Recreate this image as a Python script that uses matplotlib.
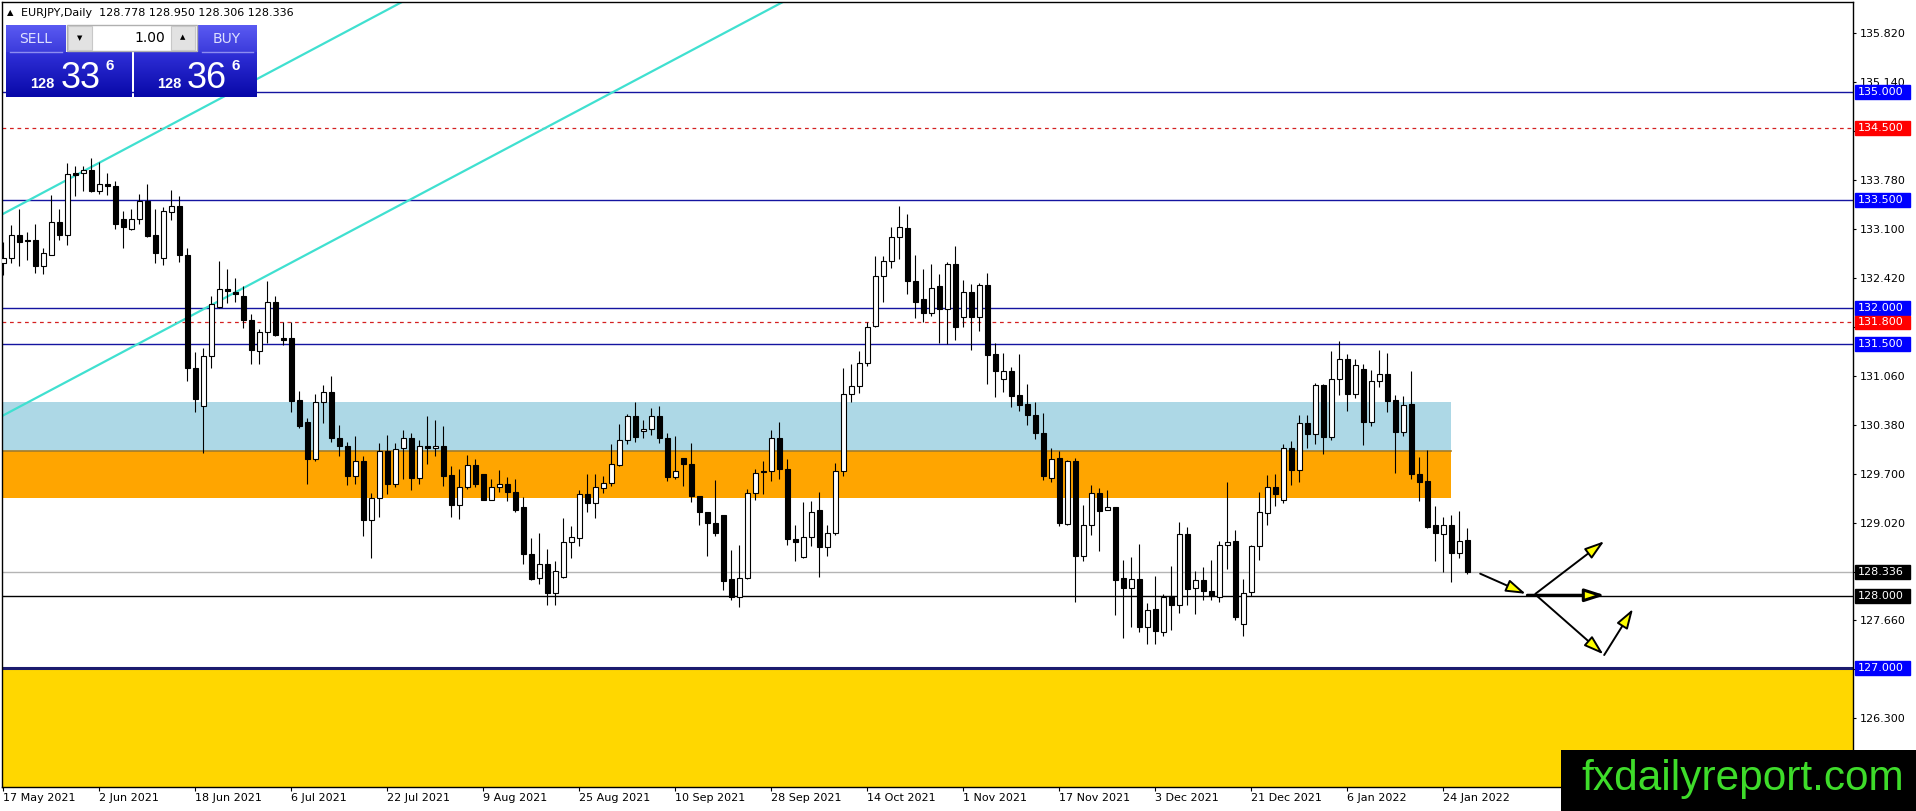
import matplotlib
matplotlib.use('Agg')
import matplotlib.pyplot as plt
import matplotlib.transforms as mtransforms
from matplotlib.patches import Rectangle
from matplotlib.lines import Line2D
import matplotlib.colors as mcolors
import numpy as np

W, H = 1916, 811

# EURJPY daily candles, 17 May 2021 .. 27 Jan 2022
opens = [
    132.63, 132.69, 133.02, 132.94, 132.94, 132.59, 132.74, 133.19, 133.02, 133.87,
    133.87, 133.91, 133.62, 133.72, 133.69, 133.23, 133.10, 133.23, 133.49, 133.01,
    132.69, 133.34, 133.42, 132.74, 131.16, 130.64, 131.34, 132.02, 132.26, 132.22,
    132.17, 131.84, 131.40, 131.66, 132.08, 131.58, 131.58, 130.72, 130.41, 129.90,
    130.70, 130.83, 130.20, 130.08, 129.66, 129.88, 129.06, 129.36, 130.01, 129.56,
    130.05, 130.20, 129.64, 130.09, 130.06, 130.08, 129.68, 129.27, 129.52, 129.82,
    129.69, 129.34, 129.51, 129.55, 129.44, 129.23, 128.58, 128.25, 128.44, 128.04,
    128.27, 128.75, 128.81, 129.41, 129.29, 129.50, 129.57, 129.82, 130.17, 130.50,
    130.29, 130.32, 130.50, 130.19, 129.65, 129.91, 129.83, 129.39, 129.17, 129.02,
    129.13, 128.23, 127.99, 128.25, 129.43, 129.74, 129.74, 130.20, 129.77, 128.79,
    128.54, 128.82, 129.19, 128.68, 128.87, 129.74, 130.81, 130.91, 131.24, 131.75,
    132.45, 132.65, 132.98, 133.11, 132.37, 132.13, 131.93, 132.31, 131.98, 132.61,
    131.87, 132.22, 131.88, 132.32, 131.36, 131.01, 131.13, 130.79, 130.67, 130.52,
    130.27, 129.64, 129.91, 129.00, 129.87, 128.56, 128.99, 129.43, 129.19, 129.23,
    128.25, 128.11, 128.23, 127.57, 127.82, 127.50, 128.00, 127.87, 128.86, 128.11,
    128.22, 128.07, 127.98, 128.71, 128.76, 127.61, 128.05, 128.70, 129.15, 129.51,
    129.33, 130.05, 129.75, 130.40, 130.25, 130.93, 130.21, 131.01, 131.29, 130.80,
    131.15, 130.41, 130.99, 131.08, 130.72, 130.28, 130.67, 129.69, 129.60, 128.99,
    128.86, 128.99, 128.60, 128.778,
]
highs = [
    132.92, 133.15, 133.38, 133.05, 133.16, 132.83, 133.57, 133.38, 134.01, 133.97,
    133.97, 134.08, 134.03, 133.87, 133.76, 133.35, 133.38, 133.58, 133.72, 133.37,
    133.40, 133.64, 133.56, 132.84, 131.39, 131.44, 132.16, 132.65, 132.54, 132.42,
    132.30, 131.92, 131.71, 132.37, 132.17, 131.80, 131.80, 130.85, 130.47, 130.81,
    130.93, 131.05, 130.38, 130.14, 130.22, 129.94, 129.43, 130.13, 130.24, 130.13,
    130.30, 130.26, 130.17, 130.50, 130.44, 130.36, 129.81, 129.76, 129.96, 129.90,
    129.69, 129.63, 129.75, 129.65, 129.63, 129.37, 128.81, 128.88, 128.65, 128.48,
    129.09, 128.97, 129.47, 129.70, 129.70, 129.67, 130.11, 130.39, 130.53, 130.69,
    130.45, 130.61, 130.64, 130.26, 130.22, 129.91, 130.13, 129.39, 129.17, 129.61,
    129.13, 128.64, 128.71, 129.48, 129.77, 129.87, 130.31, 130.42, 129.90, 128.98,
    129.31, 129.32, 129.44, 128.99, 129.85, 131.16, 131.22, 131.40, 131.81, 132.72,
    132.72, 133.12, 133.42, 133.31, 132.74, 132.54, 132.61, 132.47, 132.64, 132.86,
    132.39, 132.34, 132.35, 132.49, 131.52, 131.37, 131.18, 131.36, 130.94, 130.70,
    130.54, 130.05, 130.01, 129.89, 129.91, 129.26, 129.54, 129.50, 129.47, 129.24,
    128.50, 128.54, 128.72, 127.90, 128.28, 128.03, 128.41, 129.03, 128.96, 128.35,
    128.40, 128.50, 128.76, 129.58, 128.92, 128.24, 128.71, 129.44, 129.68, 129.70,
    130.11, 130.15, 130.51, 130.52, 130.96, 130.94, 131.40, 131.54, 131.36, 131.29,
    131.22, 131.14, 131.42, 131.38, 130.79, 130.78, 131.12, 129.93, 130.03, 129.25,
    129.10, 129.12, 129.18, 128.950,
]
lows = [
    132.46, 132.63, 132.58, 132.66, 132.49, 132.47, 132.73, 132.95, 132.88, 133.56,
    133.62, 133.61, 133.59, 133.57, 133.10, 132.84, 133.08, 133.17, 132.99, 132.62,
    132.60, 133.22, 132.64, 130.99, 130.56, 129.99, 131.17, 132.00, 132.07, 132.09,
    131.72, 131.22, 131.22, 131.51, 131.61, 131.48, 130.56, 130.33, 129.56, 129.87,
    130.40, 130.14, 129.95, 129.54, 129.56, 128.84, 128.53, 129.10, 129.42, 129.52,
    129.62, 129.47, 129.56, 129.84, 129.94, 129.53, 129.10, 129.07, 129.48, 129.52,
    129.33, 129.34, 129.45, 129.32, 129.17, 128.44, 128.22, 128.17, 127.87, 127.88,
    128.25, 128.53, 128.70, 129.17, 129.09, 129.43, 129.53, 129.81, 130.11, 130.14,
    130.19, 130.23, 130.12, 129.60, 129.62, 129.53, 129.30, 128.99, 128.55, 128.84,
    128.08, 127.94, 127.85, 128.24, 129.33, 129.42, 129.60, 129.62, 128.71, 128.49,
    128.53, 128.70, 128.27, 128.56, 128.85, 129.67, 130.69, 130.82, 131.20, 131.74,
    132.09, 132.56, 132.68, 132.20, 131.86, 131.80, 131.89, 131.52, 131.50, 131.55,
    131.73, 131.41, 131.68, 130.94, 130.77, 130.84, 130.62, 130.57, 130.38, 130.18,
    129.61, 129.59, 128.97, 128.99, 127.91, 128.49, 128.85, 128.63, 129.19, 127.73,
    127.42, 127.57, 127.50, 127.33, 127.33, 127.45, 127.53, 127.76, 127.87, 127.75,
    127.95, 127.94, 127.92, 128.38, 127.67, 127.45, 128.00, 128.50, 128.99, 129.25,
    129.29, 129.54, 129.59, 130.06, 130.11, 129.97, 130.17, 130.79, 130.57, 130.75,
    130.10, 130.36, 130.90, 130.56, 129.71, 130.22, 129.62, 129.32, 128.95, 128.49,
    128.34, 128.19, 128.53, 128.306,
]
closes = [
    132.69, 133.02, 132.92, 132.93, 132.59, 132.76, 133.19, 133.01, 133.86, 133.85,
    133.91, 133.62, 133.72, 133.69, 133.17, 133.12, 133.23, 133.49, 133.00, 132.76,
    133.35, 133.41, 132.73, 131.16, 130.74, 131.34, 132.05, 132.26, 132.23, 132.20,
    131.84, 131.41, 131.66, 132.08, 131.63, 131.56, 130.71, 130.36, 129.90, 130.70,
    130.83, 130.20, 130.08, 129.66, 129.88, 129.06, 129.36, 130.01, 129.56, 130.04,
    130.20, 129.64, 130.09, 130.06, 130.09, 129.67, 129.26, 129.52, 129.82, 129.56,
    129.34, 129.51, 129.55, 129.44, 129.20, 128.58, 128.24, 128.44, 128.04, 128.35,
    128.75, 128.82, 129.41, 129.29, 129.51, 129.57, 129.83, 130.17, 130.50, 130.21,
    130.32, 130.50, 130.19, 129.65, 129.73, 129.83, 129.39, 129.17, 129.02, 128.87,
    128.21, 127.98, 128.25, 129.43, 129.71, 129.72, 130.20, 129.77, 128.79, 128.75,
    128.82, 129.17, 128.68, 128.88, 129.74, 130.81, 130.91, 131.24, 131.74, 132.45,
    132.65, 132.98, 133.12, 132.37, 132.08, 131.93, 132.28, 131.98, 132.61, 131.74,
    132.22, 131.88, 132.32, 131.35, 131.12, 131.12, 130.78, 130.65, 130.51, 130.27,
    129.66, 129.90, 129.02, 129.87, 128.55, 128.99, 129.43, 129.18, 129.23, 128.22,
    128.11, 128.23, 127.57, 127.81, 127.52, 127.99, 127.87, 128.86, 128.10, 128.22,
    128.07, 128.00, 128.71, 128.75, 127.71, 128.04, 128.70, 129.16, 129.51, 129.42,
    130.05, 129.75, 130.40, 130.25, 130.93, 130.21, 131.01, 131.29, 130.80, 131.21,
    130.41, 130.99, 131.08, 130.71, 130.28, 130.65, 129.69, 129.59, 128.96, 128.88,
    128.99, 128.60, 128.77, 128.336,
]

date_labels = ['17 May 2021', '2 Jun 2021', '18 Jun 2021', '6 Jul 2021', '22 Jul 2021',
               '9 Aug 2021', '25 Aug 2021', '10 Sep 2021', '28 Sep 2021', '14 Oct 2021',
               '1 Nov 2021', '17 Nov 2021', '3 Dec 2021', '21 Dec 2021', '6 Jan 2022',
               '24 Jan 2022']
price_ticks = [126.30, 126.98, 127.66, 128.34, 129.02, 129.70, 130.38, 131.06,
               131.74, 132.42, 133.10, 133.78, 134.46, 135.14, 135.82]

blue_levels = [135.0, 133.5, 132.0, 131.5]
red_levels = [134.5, 131.8]
support_level = 128.0
yellow_top = 127.0
zone_blue = (130.0, 130.69)
zone_orange = (129.36, 130.01)
zone_end = 180.9
# channel lines: (bar, price) start and end
channel = [((-1, 133.25), (60, 136.85)), ((-1, 130.45), (110, 136.99))]
# scenario arrows: (bar, price) -> (bar, price)
arrows = [((184.6, 128.31), (190.3, 128.03)),
          ((190.5, 128.01), (200.2, 128.01)),
          ((191.5, 128.03), (200.1, 128.76)),
          ((191.7, 128.00), (200.0, 127.19)),
          ((200.1, 127.18), (203.7, 127.82))]

fig = plt.figure(figsize=(W / 100, H / 100), dpi=100)
ax = fig.add_axes([2 / W, 24 / H, 1851 / W, 785 / H])
ax.set_xlim(-0.16, 231.2)
ax.set_ylim(125.347, 136.25)

# zones
ax.add_patch(Rectangle((-5, 120), 250, yellow_top - 120, color='#ffd700', zorder=0.5, lw=0))
ax.axhline(yellow_top, color='#1c1c6e', lw=2.2, zorder=1)
ax.add_patch(Rectangle((-5, zone_blue[0]), zone_end + 5, zone_blue[1] - zone_blue[0],
                       color='#add8e6', lw=0, zorder=0.6))
ax.add_patch(Rectangle((-5, zone_orange[0]), zone_end + 5, zone_orange[1] - zone_orange[0],
                       color='#ffa500', lw=0, zorder=0.7))
ax.plot([-5, zone_end], [zone_orange[1], zone_orange[1]], color='#a27c2c', lw=1.2, zorder=0.8)

for lv in blue_levels:
    ax.axhline(lv, color='#1414a0', lw=1, zorder=1)
for lv in red_levels:
    ax.axhline(lv, color='#d42020', lw=0.9, ls=(0, (3, 3)), zorder=1)
ax.axhline(closes[-1], color='#b4b4b4', lw=1, zorder=1)
ax.axhline(support_level, color='black', lw=1, zorder=1)

for (x0, y0), (x1, y1) in channel:
    ax.plot([x0, x1], [y0, y1], color='#40e0d0', lw=1.6, zorder=2, solid_capstyle='butt')

# candles
o = np.array(opens); hi = np.array(highs); lo = np.array(lows); c = np.array(closes)
x = np.arange(len(o))
up = c >= o
ax.vlines(x, lo, hi, color='black', lw=0.8, zorder=3)
bot = np.minimum(o, c)
hgt = np.maximum(np.abs(c - o), 0.015)
ax.bar(x[up], hgt[up], bottom=bot[up], width=0.62, color='white', edgecolor='black', lw=0.8, zorder=4)
ax.bar(x[~up], hgt[~up], bottom=bot[~up], width=0.62, color='black', edgecolor='black', lw=0.8, zorder=4)

# arrows
for k, ((x0, y0), (x1, y1)) in enumerate(arrows):
    ax.annotate('', xy=(x1, y1), xytext=(x0, y0),
                arrowprops=dict(arrowstyle='-|>,head_length=1.0,head_width=0.32',
                                fc='#ffff00', ec='black', lw=2.2 if k == 1 else 1.4,
                                mutation_scale=12, shrinkA=0, shrinkB=0),
                zorder=6)

# price labels on the right scale
trans = mtransforms.blended_transform_factory(fig.transFigure, ax.transData)
labels = [(lv, '#0000ff') for lv in blue_levels + [yellow_top]]
labels += [(lv, '#ff0000') for lv in red_levels]
labels += [(closes[-1], 'black'), (support_level, 'black')]

# axes styling
for s in ax.spines.values():
    s.set_color('black')
    s.set_linewidth(1)
ax.yaxis.tick_right()
ax.set_yticks(price_ticks)
# scale values that sit under a level label are hidden by it, as on the terminal
covered = [p for p in price_ticks if any(abs(p - lv) < 0.07 for lv, _ in labels)]
ax.set_yticklabels(['' if p in covered else f'{p:.3f}' for p in price_ticks])
ax.tick_params(axis='y', length=2.5, pad=2.5, labelsize=8, colors='black')
ax.set_xticks(range(0, 12 * len(date_labels), 12))
ax.set_xticklabels(date_labels, ha='left')
ax.tick_params(axis='x', length=3, pad=1.5, labelsize=8, colors='black')

for lv, col in labels:
    ax.add_patch(Rectangle((1855 / W, lv - 0.095), 55 / W, 0.19, transform=trans,
                           color=col, clip_on=False, zorder=10))
    ax.text(1858 / W, lv, f'{lv:.3f}', transform=trans, color='white', fontsize=8,
            va='center', ha='left', zorder=11, clip_on=False)

# header
fig.text(7 / W, 1 - 13 / H, '\u25b2', fontsize=6, va='center')
fig.text(21 / W, 1 - 13 / H,
         f'EURJPY,Daily  {opens[-1]:.3f} {highs[-1]:.3f} {lows[-1]:.3f} {closes[-1]:.3f}',
         fontsize=8, va='center')


def grad_box(x0, y0, x1, y1, c_top, c_bot):
    a = fig.add_axes([x0 / W, 1 - y1 / H, (x1 - x0) / W, (y1 - y0) / H])
    t = np.linspace(0, 1, 40)[:, None, None]
    img = (1 - t) * np.array(mcolors.to_rgb(c_top)) + t * np.array(mcolors.to_rgb(c_bot))
    a.imshow(img, aspect='auto', extent=[0, 1, 0, 1])
    a.set_axis_off()


# one click trading panel
grad_box(6, 25, 66, 52, '#5a5af2', '#3c3cdc')
grad_box(198, 25, 257, 52, '#5a5af2', '#3c3cdc')
grad_box(6, 52, 131, 97, '#3030d8', '#0808a8')
grad_box(134, 52, 257, 97, '#3030d8', '#0808a8')
fig.add_artist(Line2D([10 / W, 62 / W], [1 - 52 / H, 1 - 52 / H], color='#8c8cf0', lw=1))
fig.add_artist(Line2D([202 / W, 253 / W], [1 - 52 / H, 1 - 52 / H], color='#8c8cf0', lw=1))
fig.add_artist(Rectangle((67 / W, 1 - 51 / H), 130 / W, 26 / H, transform=fig.transFigure,
                         fc='white', ec='#b0b0b0', lw=1))
fig.add_artist(Rectangle((68 / W, 1 - 50 / H), 24 / W, 24 / H, transform=fig.transFigure,
                         fc='#e2e2e2', ec='#c8c8c8', lw=0.8))
fig.add_artist(Rectangle((171 / W, 1 - 50 / H), 24 / W, 24 / H, transform=fig.transFigure,
                         fc='#e2e2e2', ec='#c8c8c8', lw=0.8))
fig.text(80 / W, 1 - 38 / H, '\u25bc', fontsize=5, ha='center', va='center')
fig.text(183 / W, 1 - 37 / H, '\u25b2', fontsize=5, ha='center', va='center')
fig.text(165 / W, 1 - 38 / H, '1.00', fontsize=10, ha='right', va='center')
fig.text(36 / W, 1 - 39 / H, 'SELL', fontsize=10, color='#dde0ff', ha='center', va='center')
fig.text(227 / W, 1 - 39 / H, 'BUY', fontsize=10, color='#dde0ff', ha='center', va='center')

big = dict(color='white', family='Liberation Sans', va='baseline')
fig.text(30 / W, 1 - 88 / H, '128', fontsize=10.5, fontweight='bold', **big)
fig.text(61 / W, 1 - 88 / H, '33', fontsize=26, **big)
fig.text(105 / W, 1 - 70 / H, '6', fontsize=11, fontweight='bold', **big)
fig.text(157 / W, 1 - 88 / H, '128', fontsize=10.5, fontweight='bold', **big)
fig.text(187 / W, 1 - 88 / H, '36', fontsize=26, **big)
fig.text(232 / W, 1 - 70 / H, '6', fontsize=11, fontweight='bold', **big)

# watermark
fig.add_artist(Rectangle((1561 / W, 0), 355 / W, 61 / H, transform=fig.transFigure,
                         color='black', lw=0))
fig.text(1743 / W, 21 / H, 'fxdailyreport.com', fontsize=30.5, family='Liberation Sans',
         color='#3edc2a', ha='center', va='baseline')

fig.savefig('out.png', dpi=100)
